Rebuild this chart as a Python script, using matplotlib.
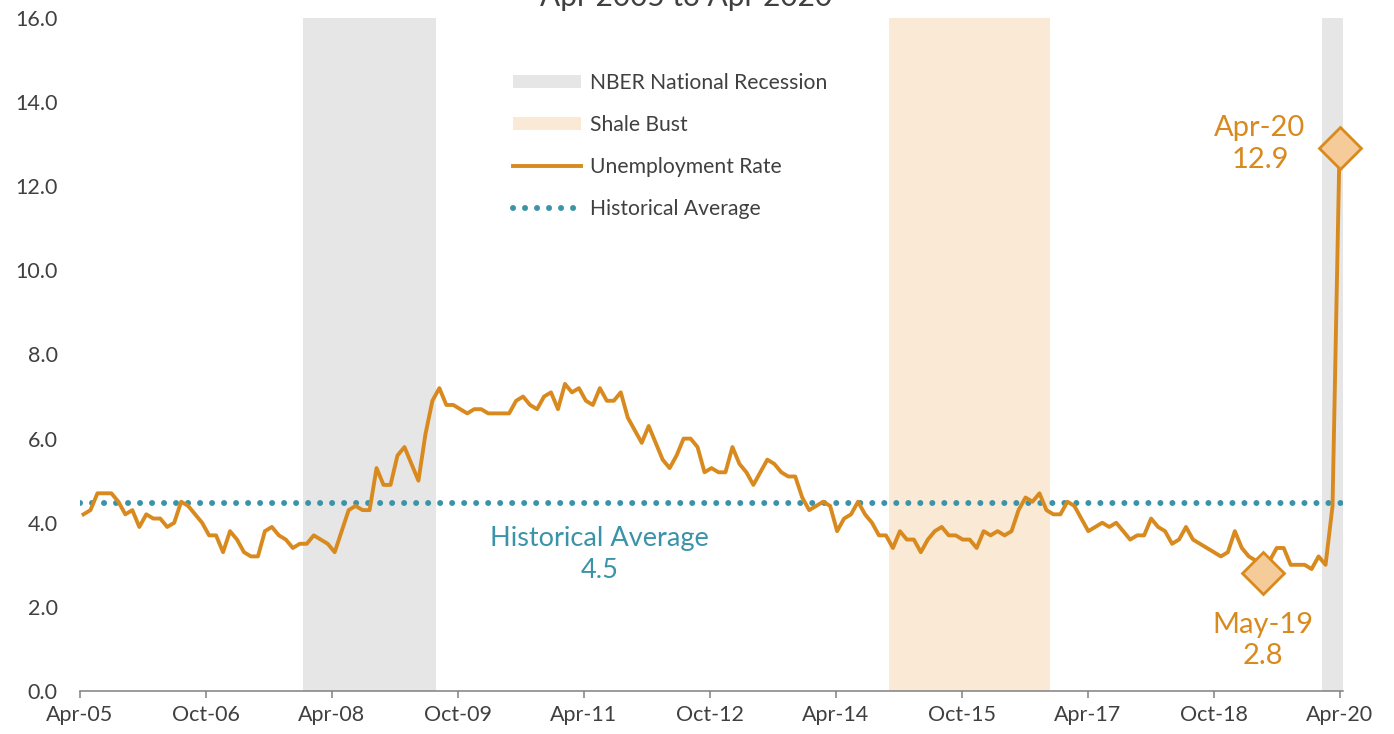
import numpy as np
import matplotlib
matplotlib.use("Agg")
import matplotlib.pyplot as plt
from matplotlib.patches import Patch
from matplotlib.lines import Line2D

plt.rcParams['font.family'] = ['Lato', 'DejaVu Sans']

# monthly unemployment rate, Apr-05 .. Apr-20
rate_05_08 = [4.2, 4.3, 4.7, 4.7, 4.7, 4.5, 4.2, 4.3, 3.9, 4.2, 4.1, 4.1, 3.9, 4.0, 4.5, 4.4,
              4.2, 4.0, 3.7, 3.7, 3.3, 3.8, 3.6, 3.3, 3.2, 3.2, 3.8, 3.9, 3.7, 3.6, 3.4, 3.5,
              3.5, 3.7, 3.6, 3.5, 3.3]
rate_08_11 = [3.8, 4.3, 4.4, 4.3, 4.3, 5.3, 4.9, 4.9, 5.6, 5.8, 5.4, 5.0, 6.1, 6.9, 7.2, 6.8,
              6.8, 6.7, 6.6, 6.7, 6.7, 6.6, 6.6, 6.6, 6.6, 6.9, 7.0, 6.8, 6.7, 7.0, 7.1, 6.7,
              7.3, 7.1, 7.2, 6.9, 6.8, 7.2, 6.9, 6.9, 7.1, 6.5, 6.2]
rate_11_14 = [5.9, 6.3, 5.9, 5.5, 5.3, 5.6, 6.0, 6.0, 5.8, 5.2, 5.3, 5.2, 5.2, 5.8, 5.4, 5.2,
              4.9, 5.2, 5.5, 5.4, 5.2, 5.1, 5.1, 4.6, 4.3, 4.4, 4.5, 4.4, 3.8, 4.1, 4.2, 4.5,
              4.2, 4.0, 3.7, 3.7]
rate_14_18 = [3.4, 3.8, 3.6, 3.6, 3.3, 3.6, 3.8, 3.9, 3.7, 3.7, 3.6, 3.6, 3.4, 3.8, 3.7, 3.8,
              3.7, 3.8, 4.3, 4.6, 4.5, 4.7, 4.3, 4.2, 4.2, 4.5, 4.4, 4.1, 3.8, 3.9, 4.0, 3.9,
              4.0, 3.8, 3.6, 3.7, 3.7, 4.1, 3.9, 3.8, 3.5, 3.6]
rate_18_20 = [3.9, 3.6, 3.5, 3.4, 3.3, 3.2, 3.3, 3.8, 3.4, 3.2, 3.1, 2.8, 3.1, 3.4, 3.4, 3.0,
              3.0, 3.0, 2.9, 3.2, 3.0, 4.4, 12.9]
rate = np.array(rate_05_08 + rate_08_11 + rate_11_14 + rate_14_18 + rate_18_20)
x = np.arange(len(rate))

hist_avg = 4.46
tick_labels = ['Apr-05', 'Oct-06', 'Apr-08', 'Oct-09', 'Apr-11', 'Oct-12',
               'Apr-14', 'Oct-15', 'Apr-17', 'Oct-18', 'Apr-20']
# month index (from Apr-05) of first and last month of each span
recessions = [(32, 50), (178, 180)]
shale_bust = (116, 138)
low_idx, high_idx = 169, 180   # May-19, Apr-20

orange = '#d98a1f'
teal = '#3a93a8'
txt = '#404040'

fig = plt.figure(figsize=(13.94, 7.34), dpi=100)
ax = fig.add_axes([80/1394, 1 - 691/734, 1263/1394, 673/734])

for a, b in recessions:
    ax.axvspan(a - 0.5, b + 0.5, color='#e6e6e6', lw=0, zorder=0)
ax.axvspan(shale_bust[0] - 0.5, shale_bust[1] + 0.5, color='#f9e9d5', lw=0, zorder=0)

ax.plot(x, rate, color=orange, lw=2.8, zorder=3, solid_joinstyle='round')
ax.plot([x[0] - 0.5, x[-1] + 0.5], [hist_avg, hist_avg], color=teal, lw=4.3,
        linestyle=(0, (0.01, 2.0)), dash_capstyle='round', zorder=2)

for i in (low_idx, high_idx):
    ax.plot(x[i], rate[i], marker='D', markersize=21, markerfacecolor='#f5cc99',
            markeredgecolor=orange, markeredgewidth=2, zorder=4, clip_on=False)

ax.text(168.6, 13.0, tick_labels[-1] + '\n' + f'{rate[high_idx]:.1f}', color=orange,
        fontsize=21, ha='center', va='center', linespacing=1.27)
ax.text(169.0, 1.2, 'May-19\n' + f'{rate[low_idx]:.1f}', color=orange,
        fontsize=21, ha='center', va='center', linespacing=1.27)
ax.text(74.0, 3.25, 'Historical Average\n4.5', color=teal, fontsize=19.5,
        ha='center', va='center', linespacing=1.33)

ax.set_xlim(-0.5, 180.5)
ax.set_ylim(0, 16)
ax.set_yticks(np.arange(0, 16.1, 2))
ax.set_yticklabels([f'{v:.1f}' for v in np.arange(0, 16.1, 2)])
ax.set_xticks(np.linspace(-0.5, 180, len(tick_labels)))
ax.set_xticklabels(tick_labels)
ax.tick_params(axis='y', length=0, pad=16, labelsize=15.5, labelcolor=txt)
ax.tick_params(axis='x', length=5, width=1.1, color='#808080', pad=5,
               labelsize=15.5, labelcolor=txt)
for s in ['top', 'right', 'left']:
    ax.spines[s].set_visible(False)
ax.spines['bottom'].set_color('#808080')
ax.spines['bottom'].set_linewidth(1.1)

handles = [Patch(facecolor='#e6e6e6', edgecolor='none'),
           Patch(facecolor='#f9e9d5', edgecolor='none'),
           Line2D([], [], color=orange, lw=2.8),
           Line2D([], [], color=teal, lw=4.3, linestyle=(0, (0.01, 2.0)),
                  dash_capstyle='round')]
labels = ['NBER National Recession', 'Shale Bust', 'Unemployment Rate', 'Historical Average']
leg = fig.legend(handles, labels, loc='upper left', bbox_to_anchor=(513/1394, 1 - 73/734),
                 frameon=False, fontsize=15.2, handlelength=3.2, handleheight=0.6,
                 handletextpad=0.45, labelspacing=1.04, borderpad=0, borderaxespad=0)
for t in leg.get_texts():
    t.set_color(txt)

fig.text(686/1394, 1 - 6/734, 'Apr 2005 to Apr 2020', ha='center', va='baseline',
         fontsize=21.5, color=txt)

fig.savefig('out.png', dpi=100)
